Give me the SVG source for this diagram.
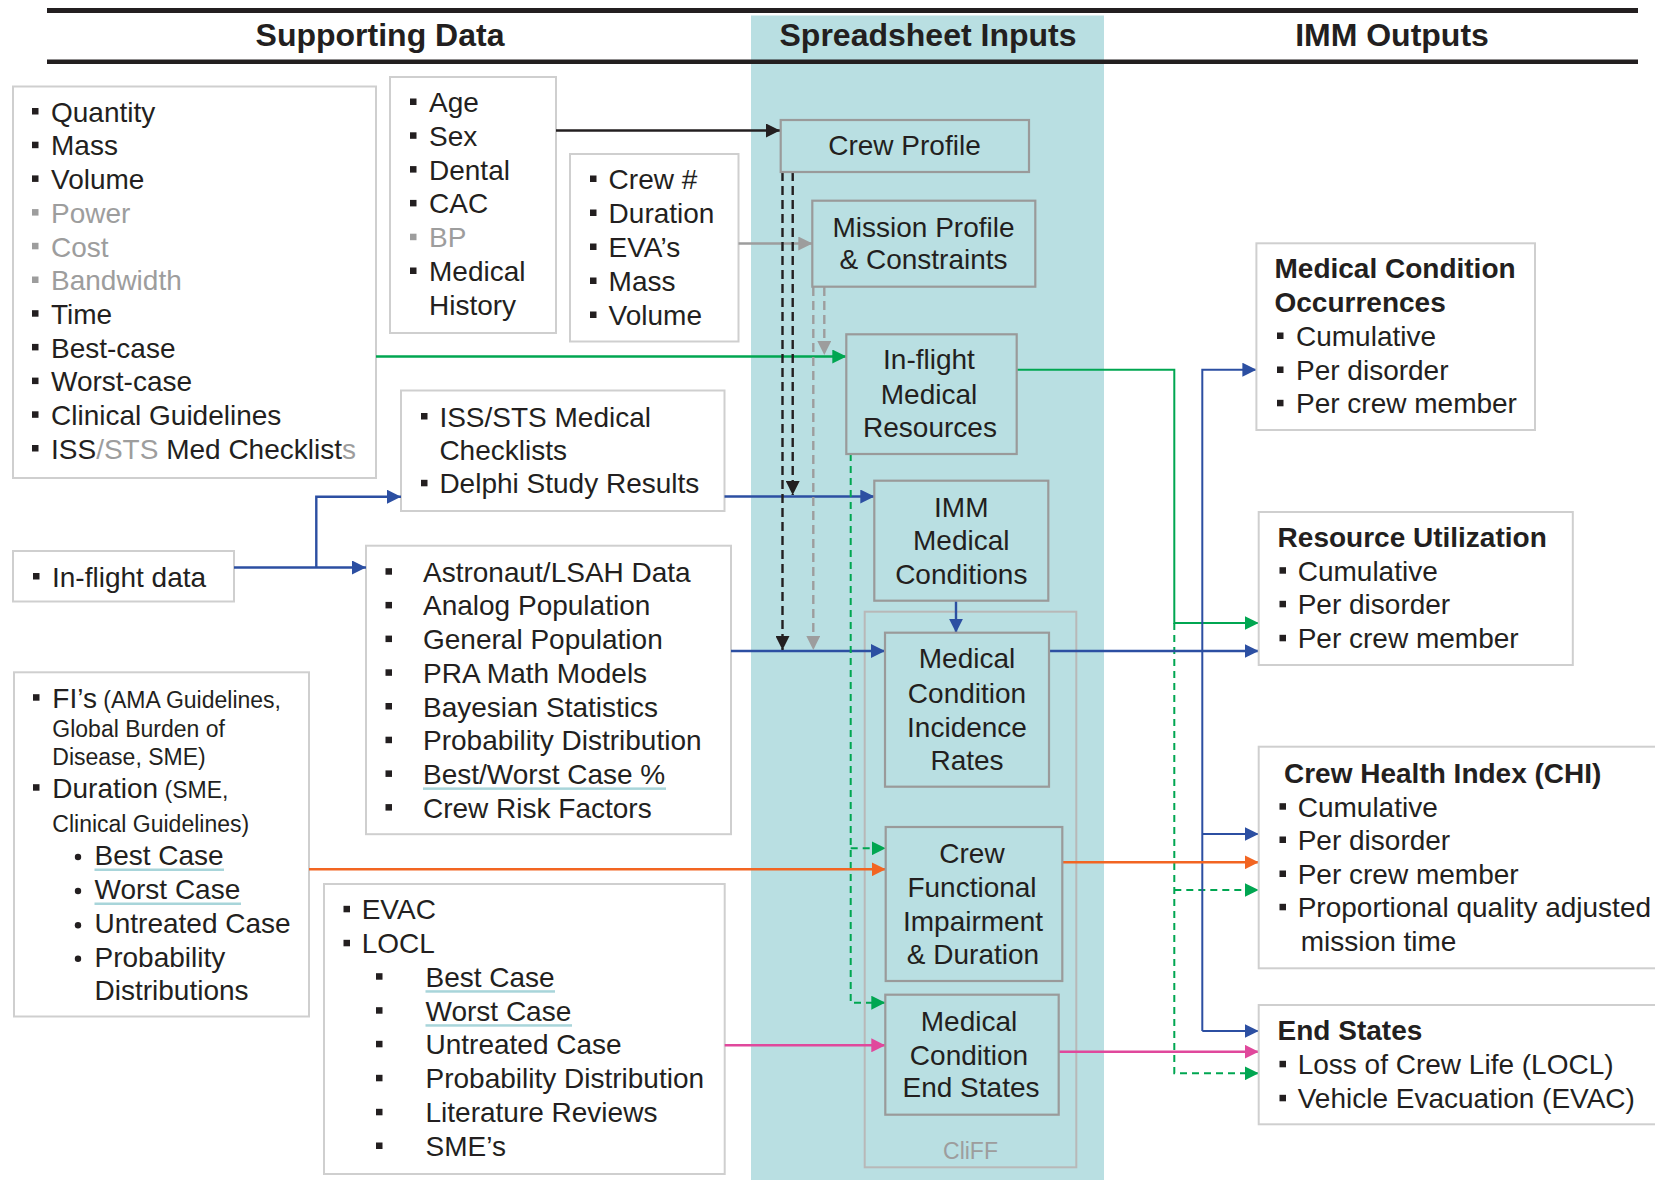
<svg xmlns="http://www.w3.org/2000/svg" width="1655" height="1180" viewBox="0 0 1655 1180">
<style>
text{font-family:"Liberation Sans",Arial,Helvetica,sans-serif;fill:#231f20;font-size:28px}
.h{font-weight:bold;font-size:32px;text-anchor:middle}
.b{font-weight:bold}
.g{fill:#9d9d9d}
.sm{font-size:23px}
.c{text-anchor:middle}
.box{fill:#fff;stroke:#cfcfcf;stroke-width:2}
.node{fill:#b9dfe2;stroke:#9a9a9a;stroke-width:2.2}
.bul{fill:#231f20}
.bulg{fill:#9d9d9d}
.ul{fill:#a8d5da}
.ln{fill:none;stroke-width:2.4}
.blk{stroke:#231f20}
.gry{stroke:#9d9d9d}
.grn{stroke:#00a651}
.blu{stroke:#2c4fa2}
.org{stroke:#f26522}
.pnk{stroke:#e0489c}
.dsh{stroke-dasharray:9 5}
.dsg{stroke-dasharray:7 5;stroke-width:2}
</style>
<defs>
<marker id="aBlk" markerUnits="userSpaceOnUse" markerWidth="14" markerHeight="14" viewBox="0 0 14 14" refX="14" refY="7" orient="auto"><path d="M0,0 L14,7 L0,14 z" fill="#231f20"/></marker>
<marker id="aGry" markerUnits="userSpaceOnUse" markerWidth="14" markerHeight="14" viewBox="0 0 14 14" refX="14" refY="7" orient="auto"><path d="M0,0 L14,7 L0,14 z" fill="#9d9d9d"/></marker>
<marker id="aGrn" markerUnits="userSpaceOnUse" markerWidth="14" markerHeight="14" viewBox="0 0 14 14" refX="14" refY="7" orient="auto"><path d="M0,0 L14,7 L0,14 z" fill="#00a651"/></marker>
<marker id="aBlu" markerUnits="userSpaceOnUse" markerWidth="14" markerHeight="14" viewBox="0 0 14 14" refX="14" refY="7" orient="auto"><path d="M0,0 L14,7 L0,14 z" fill="#2c4fa2"/></marker>
<marker id="aOrg" markerUnits="userSpaceOnUse" markerWidth="14" markerHeight="14" viewBox="0 0 14 14" refX="14" refY="7" orient="auto"><path d="M0,0 L14,7 L0,14 z" fill="#f26522"/></marker>
<marker id="aPnk" markerUnits="userSpaceOnUse" markerWidth="14" markerHeight="14" viewBox="0 0 14 14" refX="14" refY="7" orient="auto"><path d="M0,0 L14,7 L0,14 z" fill="#e0489c"/></marker>
</defs>
<rect width="1655" height="1180" fill="#fff"/>
<!-- band and header -->
<rect x="751" y="15.5" width="353" height="1165" fill="#b9dfe2"/>
<rect x="47" y="8" width="1591" height="5" fill="#231f20"/>
<rect x="47" y="59.5" width="1591" height="4.5" fill="#231f20"/>
<text class="h" x="380" y="46">Supporting Data</text>
<text class="h" x="928" y="46">Spreadsheet Inputs</text>
<text class="h" x="1392" y="46">IMM Outputs</text>

<!-- supporting data boxes -->
<g id="resources-list">
<rect class="box" x="13" y="86.5" width="363" height="391.5"/>
<rect class="bul" x="32" y="108" width="6.5" height="6.5"/><text x="51" y="121.7">Quantity</text>
<rect class="bul" x="32" y="141.7" width="6.5" height="6.5"/><text x="51" y="155.4">Mass</text>
<rect class="bul" x="32" y="175.4" width="6.5" height="6.5"/><text x="51" y="189.1">Volume</text>
<rect class="bulg" x="32" y="209.1" width="6.5" height="6.5"/><text class="g" x="51" y="222.8">Power</text>
<rect class="bulg" x="32" y="242.8" width="6.5" height="6.5"/><text class="g" x="51" y="256.5">Cost</text>
<rect class="bulg" x="32" y="276.5" width="6.5" height="6.5"/><text class="g" x="51" y="290.2">Bandwidth</text>
<rect class="bul" x="32" y="310.2" width="6.5" height="6.5"/><text x="51" y="323.9">Time</text>
<rect class="bul" x="32" y="343.9" width="6.5" height="6.5"/><text x="51" y="357.6">Best-case</text>
<rect class="bul" x="32" y="377.6" width="6.5" height="6.5"/><text x="51" y="391.3">Worst-case</text>
<rect class="bul" x="32" y="411.3" width="6.5" height="6.5"/><text x="51" y="425">Clinical Guidelines</text>
<rect class="bul" x="32" y="445" width="6.5" height="6.5"/><text x="51" y="458.7">ISS<tspan class="g">/STS</tspan> Med Checklist<tspan class="g">s</tspan></text>
</g>

<g id="crew-attributes">
<rect class="box" x="390" y="77" width="166" height="256"/>
<rect class="bul" x="410" y="98.5" width="6.5" height="6.5"/><text x="429" y="112">Age</text>
<rect class="bul" x="410" y="132.3" width="6.5" height="6.5"/><text x="429" y="145.8">Sex</text>
<rect class="bul" x="410" y="166.1" width="6.5" height="6.5"/><text x="429" y="179.6">Dental</text>
<rect class="bul" x="410" y="199.9" width="6.5" height="6.5"/><text x="429" y="213.4">CAC</text>
<rect class="bulg" x="410" y="233.7" width="6.5" height="6.5"/><text class="g" x="429" y="247.2">BP</text>
<rect class="bul" x="410" y="267.5" width="6.5" height="6.5"/><text x="429" y="281">Medical</text>
<text x="429" y="314.8">History</text>
</g>

<g id="mission-attributes">
<rect class="box" x="570" y="154" width="168.5" height="187.5"/>
<rect class="bul" x="590" y="175.5" width="6.5" height="6.5"/><text x="608.6" y="189">Crew #</text>
<rect class="bul" x="590" y="209.5" width="6.5" height="6.5"/><text x="608.6" y="223">Duration</text>
<rect class="bul" x="590" y="243.5" width="6.5" height="6.5"/><text x="608.6" y="257">EVA’s</text>
<rect class="bul" x="590" y="277.5" width="6.5" height="6.5"/><text x="608.6" y="291">Mass</text>
<rect class="bul" x="590" y="311.5" width="6.5" height="6.5"/><text x="608.6" y="325">Volume</text>
</g>

<g id="checklists">
<rect class="box" x="401" y="390.5" width="323.5" height="120.5"/>
<rect class="bul" x="421" y="413" width="6.5" height="6.5"/><text x="439.4" y="426.7">ISS/STS Medical</text>
<text x="439.4" y="460">Checklists</text>
<rect class="bul" x="421" y="479.8" width="6.5" height="6.5"/><text x="439.4" y="493.3">Delphi Study Results</text>
</g>

<g id="inflight-data">
<rect class="box" x="13" y="551" width="221" height="50.5"/>
<rect class="bul" x="33" y="573" width="6.5" height="6.5"/><text x="52" y="586.7">In-flight data</text>
</g>

<g id="population-data">
<rect class="box" x="366" y="545.7" width="365" height="288.5"/>
<rect class="bul" x="385.5" y="568.2" width="6.5" height="6.5"/><text x="423" y="581.7">Astronaut/LSAH Data</text>
<rect class="bul" x="385.5" y="601.9" width="6.5" height="6.5"/><text x="423" y="615.4">Analog Population</text>
<rect class="bul" x="385.5" y="635.6" width="6.5" height="6.5"/><text x="423" y="649.1">General Population</text>
<rect class="bul" x="385.5" y="669.3" width="6.5" height="6.5"/><text x="423" y="682.8">PRA Math Models</text>
<rect class="bul" x="385.5" y="703" width="6.5" height="6.5"/><text x="423" y="716.5">Bayesian Statistics</text>
<rect class="bul" x="385.5" y="736.7" width="6.5" height="6.5"/><text x="423" y="750.2">Probability Distribution</text>
<rect class="bul" x="385.5" y="770.4" width="6.5" height="6.5"/><text x="423" y="783.9">Best/Worst Case %</text>
<rect class="ul" x="423" y="787.4" width="243" height="2.5"/>
<rect class="bul" x="385.5" y="804.1" width="6.5" height="6.5"/><text x="423" y="817.6">Crew Risk Factors</text>
</g>

<g id="impairment-data">
<rect class="box" x="14" y="672.3" width="295" height="344.2"/>
<rect class="bul" x="33" y="694.2" width="6.5" height="6.5"/><text x="52.3" y="707.7">FI’s<tspan class="sm"> (AMA Guidelines,</tspan></text>
<text class="sm" x="52.3" y="737.3">Global Burden of</text>
<text class="sm" x="52.3" y="765">Disease, SME)</text>
<rect class="bul" x="33" y="784.2" width="6.5" height="6.5"/><text x="52.3" y="797.7">Duration<tspan class="sm"> (SME,</tspan></text>
<text class="sm" x="52.3" y="831.7">Clinical Guidelines)</text>
<circle class="bul" cx="78" cy="857" r="3.2"/><text x="94.5" y="865">Best Case</text>
<rect class="ul" x="94.5" y="868.5" width="129.5" height="2.5"/>
<circle class="bul" cx="78" cy="891" r="3.2"/><text x="94.5" y="899">Worst Case</text>
<rect class="ul" x="94.5" y="902.5" width="146.5" height="2.5"/>
<circle class="bul" cx="78" cy="925.3" r="3.2"/><text x="94.5" y="933.3">Untreated Case</text>
<circle class="bul" cx="78" cy="958.7" r="3.2"/><text x="94.5" y="966.7">Probability</text>
<text x="94.5" y="1000">Distributions</text>
</g>

<g id="endstate-data">
<rect class="box" x="324" y="884" width="400.7" height="290"/>
<rect class="bul" x="343.5" y="905.8" width="6.5" height="6.5"/><text x="361.7" y="919.3">EVAC</text>
<rect class="bul" x="343.5" y="939.8" width="6.5" height="6.5"/><text x="361.7" y="953.3">LOCL</text>
<rect class="bul" x="376" y="973.2" width="6.5" height="6.5"/><text x="425.5" y="986.7">Best Case</text>
<rect class="ul" x="425.5" y="990.2" width="129.5" height="2.5"/>
<rect class="bul" x="376" y="1007.2" width="6.5" height="6.5"/><text x="425.5" y="1020.7">Worst Case</text>
<rect class="ul" x="425.5" y="1024.2" width="146.5" height="2.5"/>
<rect class="bul" x="376" y="1040.8" width="6.5" height="6.5"/><text x="425.5" y="1054.3">Untreated Case</text>
<rect class="bul" x="376" y="1074.8" width="6.5" height="6.5"/><text x="425.5" y="1088.3">Probability Distribution</text>
<rect class="bul" x="376" y="1108.8" width="6.5" height="6.5"/><text x="425.5" y="1122.3">Literature Reviews</text>
<rect class="bul" x="376" y="1142.5" width="6.5" height="6.5"/><text x="425.5" y="1156">SME’s</text>
</g>

<!-- CliFF container -->
<g id="cliff">
<rect x="864.7" y="611.7" width="211.6" height="555.6" fill="none" stroke="#b8b8b8" stroke-width="2"/>
<text class="c g sm" x="970.5" y="1159">CliFF</text>
</g>

<!-- connectors -->
<g id="connectors">
<path class="ln blk" d="M556,130.5 H780" marker-end="url(#aBlk)"/>
<path class="ln gry" d="M738.5,243.5 H812.3" marker-end="url(#aGry)"/>
<path class="ln grn" d="M376,356.5 H846.3" marker-end="url(#aGrn)"/>
<path class="ln blu" d="M234,567.5 H366" marker-end="url(#aBlu)"/>
<path class="ln blu" d="M316.3,567.5 V496.7 H401" marker-end="url(#aBlu)"/>
<path class="ln blu" d="M724.5,496.5 H874.3" marker-end="url(#aBlu)"/>
<path class="ln blu" d="M731,651 H885" marker-end="url(#aBlu)"/>
<path class="ln blu" d="M956,600.7 V632.7" marker-end="url(#aBlu)"/>
<path class="ln blk dsh" d="M792.7,172 V495" marker-end="url(#aBlk)"/>
<path class="ln blk dsh" d="M782.5,172 V650" marker-end="url(#aBlk)"/>
<path class="ln gry dsh" d="M824.3,287 V355" marker-end="url(#aGry)"/>
<path class="ln gry dsh" d="M813.3,287 V650" marker-end="url(#aGry)"/>
<path class="ln grn dsg" d="M850.7,454 V1002.7 H885.3" marker-end="url(#aGrn)"/>
<path class="ln grn dsg" d="M850.7,848.3 H885.7" marker-end="url(#aGrn)"/>
<path class="ln org" d="M309,869.3 H885.7" marker-end="url(#aOrg)"/>
<path class="ln pnk" d="M724.7,1045.3 H885.3" marker-end="url(#aPnk)"/>
<path class="ln grn" style="stroke-width:2" d="M1016.7,369.7 H1174.3 V623 H1258.7" marker-end="url(#aGrn)"/>
<path class="ln grn dsg" d="M1174.3,623 V1073.3 H1258.7" marker-end="url(#aGrn)"/>
<path class="ln grn dsg" d="M1174.3,890 H1258.7" marker-end="url(#aGrn)"/>
<path class="ln blu" d="M1049,651 H1258.7" marker-end="url(#aBlu)"/>
<path class="ln blu" style="stroke-width:2" d="M1202.3,1031 V369.7 H1256.4" marker-end="url(#aBlu)"/>
<path class="ln blu" style="stroke-width:2" d="M1202.3,834 H1258.7" marker-end="url(#aBlu)"/>
<path class="ln blu" style="stroke-width:2" d="M1202.3,1031 H1258.7" marker-end="url(#aBlu)"/>
<path class="ln org" d="M1062.3,862.3 H1258.7" marker-end="url(#aOrg)"/>
<path class="ln pnk" d="M1058.7,1051.7 H1258.7" marker-end="url(#aPnk)"/>
</g>

<!-- spreadsheet input nodes -->
<g id="crew-profile">
<rect class="node" x="780.7" y="120" width="248.3" height="52"/>
<text class="c" x="904.5" y="155">Crew Profile</text>
</g>
<g id="mission-profile">
<rect class="node" x="812.3" y="200.7" width="223" height="86"/>
<text class="c" x="923.5" y="236.7">Mission Profile</text>
<text class="c" x="923.5" y="269.3">&amp; Constraints</text>
</g>
<g id="inflight-resources">
<rect class="node" x="846.3" y="334.3" width="170.4" height="119.7"/>
<text class="c" x="929" y="369.3">In-flight</text>
<text class="c" x="929" y="404">Medical</text>
<text class="c" x="930" y="437.3">Resources</text>
</g>
<g id="imm-conditions">
<rect class="node" x="874.3" y="480.7" width="174" height="120"/>
<text class="c" x="961.3" y="516.7">IMM</text>
<text class="c" x="961.3" y="550">Medical</text>
<text class="c" x="961.3" y="584">Conditions</text>
</g>
<g id="incidence-rates">
<rect class="node" x="885" y="632.7" width="164" height="154"/>
<text class="c" x="967" y="668.3">Medical</text>
<text class="c" x="967" y="702.7">Condition</text>
<text class="c" x="967" y="736.7">Incidence</text>
<text class="c" x="967" y="770">Rates</text>
</g>
<g id="functional-impairment">
<rect class="node" x="885.7" y="827" width="176.6" height="154"/>
<text class="c" x="972" y="862.7">Crew</text>
<text class="c" x="972" y="896.7">Functional</text>
<text class="c" x="973" y="930.7">Impairment</text>
<text class="c" x="973" y="964.3">&amp; Duration</text>
</g>
<g id="end-states-node">
<rect class="node" x="885.3" y="994.7" width="173.4" height="120"/>
<text class="c" x="969" y="1030.7">Medical</text>
<text class="c" x="969" y="1065">Condition</text>
<text class="c" x="971" y="1097.3">End States</text>
</g>

<!-- outputs -->
<g id="occurrences">
<rect class="box" x="1256.4" y="243.3" width="278.6" height="186.7"/>
<text class="b" x="1274.5" y="278.3">Medical Condition</text>
<text class="b" x="1274.5" y="312.3">Occurrences</text>
<rect class="bul" x="1277" y="332.5" width="6.5" height="6.5"/><text x="1296" y="346">Cumulative</text>
<rect class="bul" x="1277" y="366.5" width="6.5" height="6.5"/><text x="1296" y="380">Per disorder</text>
<rect class="bul" x="1277" y="399.8" width="6.5" height="6.5"/><text x="1296" y="413.3">Per crew member</text>
</g>
<g id="resource-utilization">
<rect class="box" x="1258.7" y="512" width="314.1" height="153"/>
<text class="b" x="1277.6" y="547.3">Resource Utilization</text>
<rect class="bul" x="1279.5" y="567.2" width="6.5" height="6.5"/><text x="1297.7" y="580.7">Cumulative</text>
<rect class="bul" x="1279.5" y="600.8" width="6.5" height="6.5"/><text x="1297.7" y="614.3">Per disorder</text>
<rect class="bul" x="1279.5" y="634.8" width="6.5" height="6.5"/><text x="1297.7" y="648.3">Per crew member</text>
</g>
<g id="chi">
<rect class="box" x="1258.7" y="746.7" width="410" height="221.6"/>
<text class="b" x="1284" y="782.7">Crew Health Index (CHI)</text>
<rect class="bul" x="1279.5" y="803.2" width="6.5" height="6.5"/><text x="1297.7" y="816.7">Cumulative</text>
<rect class="bul" x="1279.5" y="836.5" width="6.5" height="6.5"/><text x="1297.7" y="850">Per disorder</text>
<rect class="bul" x="1279.5" y="870.5" width="6.5" height="6.5"/><text x="1297.7" y="884">Per crew member</text>
<rect class="bul" x="1279.5" y="903.8" width="6.5" height="6.5"/><text x="1297.7" y="917.3">Proportional quality adjusted</text>
<text x="1300.8" y="951">mission time</text>
</g>
<g id="end-states">
<rect class="box" x="1258.7" y="1005" width="410" height="119.3"/>
<text class="b" x="1277.6" y="1040">End States</text>
<rect class="bul" x="1279.5" y="1060.8" width="6.5" height="6.5"/><text x="1297.7" y="1074.3">Loss of Crew Life (LOCL)</text>
<rect class="bul" x="1279.5" y="1094.8" width="6.5" height="6.5"/><text x="1297.7" y="1108.3">Vehicle Evacuation (EVAC)</text>
</g>
</svg>
